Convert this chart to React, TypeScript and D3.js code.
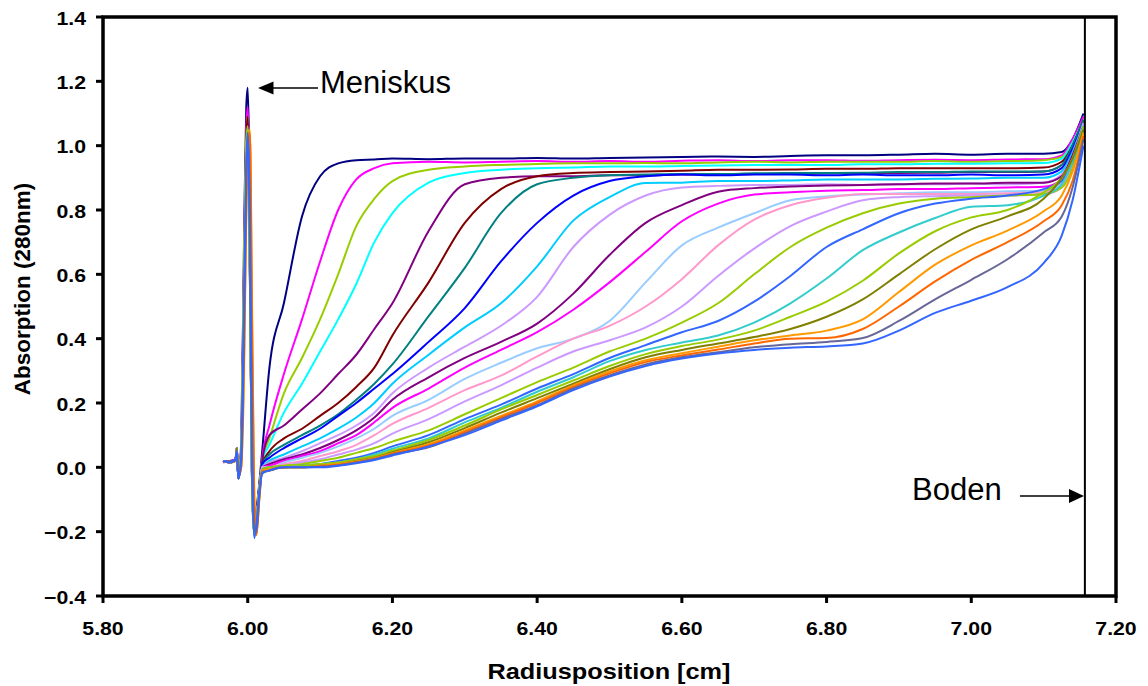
import React from "react";
import * as d3 from "d3";

// ---------- data ----------
const X_TICKS = [5.8, 6.0, 6.2, 6.4, 6.6, 6.8, 7.0, 7.2];
const Y_TICKS = [-0.4, -0.2, 0.0, 0.2, 0.4, 0.6, 0.8, 1.0, 1.2, 1.4];
const BODEN_RADIUS = 7.157;

// radius positions of the meniscus region (cm)
const RADIUS_MENISKUS = [5.966, 5.975, 5.983, 5.985, 5.987, 5.991, 5.995, 5.998, 6.0, 6.003, 6.006, 6.009, 6.012, 6.016];
// radius positions of the cell profile (cm)
const RADIUS_PROFILE = [6.02, 6.03, 6.05, 6.075, 6.1, 6.125, 6.15, 6.175, 6.2, 6.25, 6.3, 6.35, 6.4, 6.45, 6.5, 6.55, 6.6, 6.65, 6.7, 6.75, 6.8, 6.85, 6.9, 6.95, 7.0, 7.05, 7.1, 7.125, 7.14, 7.155];

const SERIES_COLORS = [
  "#000080", "#FF00FF", "#99CC00", "#00FFFF", "#800080", "#800000", "#008080", "#0000FF",
  "#00CCFF", "#CC99FF", "#800080", "#FF00FF", "#99CCFF", "#FF99CC", "#CC99FF", "#99CC00",
  "#3366FF", "#33CCCC", "#99CC00", "#808000", "#FF9900", "#FF6600", "#666699", "#3366FF",
];

const MENISKUS_VALUES: number[][] = [
  [0.02, 0.02, 0.025, 0.05, -0.03, 0.08, 0.72, 1.12, 1.18, 0.85, 0.05, -0.16, -0.13, -0.05],
  [0.015, 0.02, 0.02, 0.06, -0.035, 0.06, 0.65, 1.05, 1.12, 0.75, 0.0, -0.18, -0.15, -0.06],
  [0.02, 0.015, 0.02, 0.05, -0.03, 0.05, 0.62, 1.02, 1.09, 0.7, -0.02, -0.2, -0.16, -0.06],
  [0.02, 0.02, 0.02, 0.06, -0.035, 0.05, 0.6, 1.0, 1.08, 0.68, -0.03, -0.2, -0.16, -0.06],
  [0.02, 0.015, 0.02, 0.05, -0.03, 0.05, 0.58, 0.98, 1.06, 0.65, -0.04, -0.2, -0.16, -0.06],
  [0.02, 0.02, 0.02, 0.06, -0.035, 0.05, 0.6, 1.02, 1.09, 0.66, -0.04, -0.2, -0.16, -0.06],
  [0.02, 0.015, 0.02, 0.05, -0.03, 0.05, 0.58, 0.98, 1.05, 0.62, -0.05, -0.2, -0.17, -0.07],
  [0.02, 0.02, 0.02, 0.06, -0.035, 0.05, 0.6, 0.98, 1.05, 0.6, -0.05, -0.2, -0.17, -0.07],
  [0.02, 0.015, 0.02, 0.05, -0.03, 0.04, 0.57, 0.97, 1.05, 0.62, -0.05, -0.21, -0.17, -0.07],
  [0.02, 0.02, 0.02, 0.06, -0.035, 0.05, 0.6, 0.98, 1.05, 0.6, -0.05, -0.2, -0.17, -0.07],
  [0.02, 0.015, 0.02, 0.05, -0.03, 0.04, 0.56, 0.96, 1.05, 0.64, -0.04, -0.2, -0.17, -0.07],
  [0.02, 0.02, 0.025, 0.06, -0.035, 0.05, 0.6, 0.98, 1.06, 0.62, -0.05, -0.2, -0.17, -0.07],
  [0.02, 0.015, 0.02, 0.05, -0.03, 0.04, 0.55, 0.96, 1.05, 0.65, -0.04, -0.21, -0.17, -0.07],
  [0.02, 0.02, 0.02, 0.06, -0.035, 0.05, 0.58, 0.97, 1.05, 0.63, -0.05, -0.2, -0.17, -0.07],
  [0.02, 0.015, 0.02, 0.05, -0.03, 0.04, 0.56, 0.96, 1.05, 0.64, -0.05, -0.21, -0.17, -0.07],
  [0.02, 0.02, 0.02, 0.06, -0.035, 0.05, 0.6, 1.0, 1.06, 0.6, -0.06, -0.21, -0.17, -0.07],
  [0.02, 0.015, 0.02, 0.05, -0.03, 0.04, 0.55, 0.95, 1.05, 0.66, -0.03, -0.21, -0.18, -0.08],
  [0.02, 0.02, 0.02, 0.06, -0.035, 0.04, 0.55, 0.95, 1.05, 0.64, -0.05, -0.21, -0.17, -0.07],
  [0.02, 0.015, 0.02, 0.05, -0.03, 0.05, 0.6, 1.0, 1.05, 0.6, -0.06, -0.21, -0.17, -0.07],
  [0.02, 0.02, 0.02, 0.06, -0.035, 0.03, 0.5, 0.92, 1.04, 0.7, 0.0, -0.2, -0.18, -0.08],
  [0.02, 0.02, 0.02, 0.05, -0.03, 0.0, 0.3, 0.78, 0.96, 1.05, 0.5, -0.08, -0.21, -0.1],
  [0.02, 0.015, 0.02, 0.05, -0.03, 0.0, 0.35, 0.8, 0.98, 1.04, 0.45, -0.1, -0.21, -0.1],
  [0.02, 0.02, 0.02, 0.05, -0.035, 0.02, 0.45, 0.9, 1.03, 0.8, 0.1, -0.18, -0.2, -0.09],
  [0.02, 0.015, 0.025, 0.05, -0.035, 0.03, 0.5, 0.92, 1.04, 0.72, 0.02, -0.22, -0.18, -0.08],
];

const PROFILE_NAVY = [0.05, 0.31, 0.51, 0.78, 0.905, 0.945, 0.955, 0.957, 0.96, 0.958, 0.96, 0.96, 0.962, 0.96, 0.962, 0.963, 0.965, 0.966, 0.965, 0.968, 0.97, 0.97, 0.972, 0.975, 0.972, 0.975, 0.975, 0.98, 1.02, 1.1];
const PROFILE_MAGENTA = [0.03, 0.13, 0.29, 0.46, 0.64, 0.8, 0.895, 0.93, 0.945, 0.95, 0.948, 0.95, 0.952, 0.95, 0.952, 0.95, 0.953, 0.955, 0.952, 0.955, 0.955, 0.953, 0.955, 0.956, 0.955, 0.957, 0.958, 0.97, 1.02, 1.09];
const PROFILE_YELLOWGREEN = [0.02, 0.09, 0.23, 0.34, 0.46, 0.6, 0.75, 0.835, 0.89, 0.925, 0.935, 0.94, 0.943, 0.945, 0.945, 0.946, 0.945, 0.948, 0.95, 0.948, 0.95, 0.95, 0.95, 0.952, 0.95, 0.952, 0.955, 0.965, 1.01, 1.08];
const PROFILE_CYAN = [0.02, 0.07, 0.17, 0.26, 0.36, 0.46, 0.57, 0.7, 0.79, 0.885, 0.915, 0.925, 0.93, 0.932, 0.935, 0.935, 0.937, 0.938, 0.94, 0.94, 0.94, 0.942, 0.942, 0.944, 0.944, 0.945, 0.946, 0.96, 1.01, 1.08];
const PROFILE_PURPLE = [0.02, 0.1, 0.13, 0.18, 0.23, 0.29, 0.35, 0.43, 0.51, 0.735, 0.88, 0.9, 0.905, 0.905, 0.908, 0.908, 0.91, 0.91, 0.912, 0.912, 0.914, 0.915, 0.915, 0.916, 0.918, 0.918, 0.92, 0.94, 1.0, 1.08];
const PROFILE_DARKRED = [0.01, 0.05, 0.09, 0.12, 0.16, 0.2, 0.25, 0.31, 0.41, 0.575, 0.76, 0.865, 0.905, 0.915, 0.918, 0.92, 0.922, 0.925, 0.925, 0.926, 0.928, 0.928, 0.93, 0.93, 0.93, 0.93, 0.932, 0.95, 1.0, 1.08];
const PROFILE_TEAL = [0.01, 0.04, 0.07, 0.1, 0.13, 0.165, 0.21, 0.26, 0.32, 0.47, 0.62, 0.79, 0.88, 0.9, 0.908, 0.91, 0.912, 0.912, 0.914, 0.915, 0.915, 0.916, 0.918, 0.918, 0.92, 0.92, 0.92, 0.94, 1.0, 1.08];
const PROFILE_BLUE = [0.01, 0.03, 0.06, 0.09, 0.12, 0.16, 0.2, 0.245, 0.29, 0.39, 0.495, 0.64, 0.76, 0.845, 0.89, 0.905, 0.91, 0.908, 0.91, 0.91, 0.908, 0.91, 0.908, 0.908, 0.91, 0.908, 0.91, 0.93, 0.99, 1.07];
const PROFILE_SKYBLUE = [0.0, 0.02, 0.04, 0.065, 0.09, 0.12, 0.155, 0.2, 0.26, 0.35, 0.435, 0.51, 0.625, 0.767, 0.84, 0.884, 0.885, 0.89, 0.89, 0.892, 0.895, 0.895, 0.895, 0.897, 0.898, 0.9, 0.9, 0.92, 0.98, 1.07];
const PROFILE_LAVENDER = [0.0, 0.015, 0.03, 0.05, 0.075, 0.1, 0.13, 0.17, 0.23, 0.31, 0.375, 0.44, 0.53, 0.685, 0.785, 0.845, 0.87, 0.875, 0.878, 0.878, 0.88, 0.878, 0.88, 0.88, 0.882, 0.88, 0.885, 0.91, 0.97, 1.07];
const PROFILE_PURPLE_2 = [0.0, 0.01, 0.025, 0.04, 0.06, 0.085, 0.115, 0.155, 0.21, 0.28, 0.34, 0.39, 0.447, 0.54, 0.66, 0.76, 0.815, 0.857, 0.868, 0.873, 0.876, 0.878, 0.88, 0.882, 0.882, 0.885, 0.885, 0.905, 0.97, 1.06];
const PROFILE_MAGENTA_2 = [0.0, 0.005, 0.02, 0.035, 0.05, 0.075, 0.1, 0.14, 0.185, 0.245, 0.31, 0.365, 0.42, 0.49, 0.575, 0.67, 0.765, 0.82, 0.848, 0.855, 0.86, 0.862, 0.865, 0.865, 0.868, 0.87, 0.872, 0.895, 0.96, 1.06];
const PROFILE_LIGHTBLUE = [0.0, 0.0, 0.015, 0.03, 0.045, 0.065, 0.09, 0.12, 0.16, 0.21, 0.275, 0.325, 0.37, 0.4, 0.455, 0.575, 0.69, 0.745, 0.79, 0.83, 0.842, 0.848, 0.852, 0.855, 0.855, 0.858, 0.86, 0.885, 0.95, 1.06];
const PROFILE_PINK = [0.0, 0.0, 0.01, 0.02, 0.035, 0.05, 0.07, 0.1, 0.135, 0.185, 0.24, 0.285, 0.345, 0.4, 0.44, 0.5, 0.585, 0.69, 0.77, 0.815, 0.838, 0.85, 0.85, 0.85, 0.85, 0.852, 0.855, 0.875, 0.94, 1.05];
const PROFILE_LAVENDER_2 = [0.0, 0.0, 0.005, 0.015, 0.025, 0.04, 0.055, 0.075, 0.105, 0.15, 0.205, 0.255, 0.31, 0.36, 0.395, 0.435, 0.5, 0.595, 0.68, 0.75, 0.795, 0.83, 0.84, 0.843, 0.845, 0.845, 0.848, 0.87, 0.93, 1.05];
const PROFILE_YELLOWGREEN_2 = [-0.005, 0.0, 0.005, 0.01, 0.02, 0.03, 0.045, 0.06, 0.08, 0.115, 0.165, 0.215, 0.265, 0.31, 0.36, 0.4, 0.45, 0.51, 0.6, 0.685, 0.745, 0.79, 0.82, 0.835, 0.84, 0.845, 0.85, 0.87, 0.93, 1.05];
const PROFILE_ROYALBLUE = [-0.01, 0.0, 0.0, 0.005, 0.01, 0.02, 0.03, 0.045, 0.065, 0.1, 0.15, 0.195, 0.245, 0.29, 0.34, 0.38, 0.42, 0.455, 0.515, 0.595, 0.685, 0.74, 0.79, 0.82, 0.835, 0.845, 0.865, 0.89, 0.95, 1.06];
const PROFILE_TURQUOISE = [-0.01, 0.0, 0.0, 0.005, 0.01, 0.015, 0.025, 0.04, 0.058, 0.09, 0.14, 0.185, 0.235, 0.28, 0.33, 0.365, 0.388, 0.41, 0.45, 0.51, 0.587, 0.675, 0.73, 0.775, 0.81, 0.815, 0.845, 0.88, 0.95, 1.05];
const PROFILE_YELLOWGREEN_3 = [-0.01, 0.0, 0.0, 0.005, 0.01, 0.015, 0.025, 0.035, 0.052, 0.085, 0.13, 0.18, 0.225, 0.27, 0.315, 0.352, 0.377, 0.397, 0.425, 0.468, 0.515, 0.58, 0.665, 0.734, 0.777, 0.8, 0.855, 0.9, 0.96, 1.06];
const PROFILE_OLIVE = [-0.01, -0.005, 0.0, 0.0, 0.005, 0.01, 0.02, 0.03, 0.047, 0.078, 0.122, 0.17, 0.215, 0.26, 0.305, 0.342, 0.365, 0.385, 0.405, 0.43, 0.468, 0.522, 0.6, 0.678, 0.74, 0.78, 0.835, 0.9, 0.96, 1.05];
const PROFILE_ORANGE = [-0.01, -0.005, 0.0, 0.0, 0.005, 0.01, 0.018, 0.028, 0.044, 0.072, 0.115, 0.16, 0.205, 0.255, 0.298, 0.333, 0.355, 0.375, 0.395, 0.41, 0.425, 0.46, 0.545, 0.63, 0.69, 0.736, 0.796, 0.845, 0.92, 1.04];
const PROFILE_ORANGERED = [-0.015, -0.01, 0.0, 0.0, 0.003, 0.008, 0.016, 0.026, 0.042, 0.068, 0.11, 0.155, 0.2, 0.25, 0.292, 0.327, 0.348, 0.366, 0.385, 0.4, 0.402, 0.43, 0.5, 0.578, 0.645, 0.7, 0.765, 0.815, 0.89, 1.03];
const PROFILE_GRAYBLUE = [-0.015, -0.01, 0.0, 0.0, 0.002, 0.006, 0.015, 0.025, 0.04, 0.062, 0.105, 0.15, 0.193, 0.245, 0.286, 0.32, 0.342, 0.358, 0.373, 0.383, 0.39, 0.402, 0.455, 0.522, 0.583, 0.647, 0.73, 0.78, 0.87, 1.02];
const PROFILE_ROYALBLUE_2 = [-0.02, -0.01, 0.0, 0.0, 0.0, 0.005, 0.013, 0.023, 0.037, 0.065, 0.1, 0.145, 0.19, 0.24, 0.282, 0.315, 0.338, 0.354, 0.365, 0.372, 0.376, 0.385, 0.425, 0.48, 0.518, 0.56, 0.635, 0.72, 0.83, 1.0];

const PROFILE_VALUES = [
  PROFILE_NAVY, PROFILE_MAGENTA, PROFILE_YELLOWGREEN, PROFILE_CYAN, PROFILE_PURPLE, PROFILE_DARKRED,
  PROFILE_TEAL, PROFILE_BLUE, PROFILE_SKYBLUE, PROFILE_LAVENDER, PROFILE_PURPLE_2, PROFILE_MAGENTA_2,
  PROFILE_LIGHTBLUE, PROFILE_PINK, PROFILE_LAVENDER_2, PROFILE_YELLOWGREEN_2, PROFILE_ROYALBLUE,
  PROFILE_TURQUOISE, PROFILE_YELLOWGREEN_3, PROFILE_OLIVE, PROFILE_ORANGE, PROFILE_ORANGERED,
  PROFILE_GRAYBLUE, PROFILE_ROYALBLUE_2,
];

// ---------- layout ----------
const W = 1148;
const H = 686;
const M = { left: 103, right: 1116, top: 17, bottom: 596 };
const FONT = "'Liberation Sans', Arial, Helvetica, sans-serif";

export default function App() {
  const x = d3.scaleLinear().domain([5.8, 7.2]).range([M.left, M.right]);
  const y = d3.scaleLinear().domain([-0.4, 1.4]).range([M.bottom, M.top]);

  const line = d3
    .line<[number, number]>()
    .x((d) => x(d[0]))
    .y((d) => y(d[1]))
    .curve(d3.curveMonotoneX);

  const series = PROFILE_VALUES.map((prof, i) => {
    const pts: [number, number][] = [];
    RADIUS_MENISKUS.forEach((r, j) => pts.push([r, MENISKUS_VALUES[i][j]]));
    RADIUS_PROFILE.forEach((r, j) => pts.push([r, prof[j]]));
    return { color: SERIES_COLORS[i], d: line(pts) || "" };
  });

  const yFmt = d3.format(".1f");
  const xFmt = d3.format(".2f");
  const bx = x(BODEN_RADIUS);

  return (
    <svg width={W} height={H} style={{ position: "absolute", left: 0, top: 0, background: "#fff" }}>
      <rect x={0} y={0} width={W} height={H} fill="#fff" />
      {/* curves */}
      <g fill="none" strokeWidth={2} strokeLinejoin="round">
        {series.map((s, i) => (
          <path key={i} d={s.d} stroke={s.color} />
        ))}
      </g>

      {/* Boden line */}
      <line x1={bx} x2={bx} y1={M.top} y2={M.bottom} stroke="#000" strokeWidth={2} />

      {/* frame */}
      <rect x={M.left} y={M.top} width={M.right - M.left} height={M.bottom - M.top} fill="none" stroke="#000" strokeWidth={3.5} />

      {/* y ticks */}
      {Y_TICKS.map((t) => (
        <g key={"y" + t}>
          <line x1={M.left - 7} x2={M.left} y1={y(t)} y2={y(t)} stroke="#000" strokeWidth={3} />
          <text
            transform={`translate(86,${y(t) + 7.5}) scale(1.15,1)`}
            textAnchor="end"
            fontFamily={FONT}
            fontWeight="bold"
            fontSize={18.5}
            fill="#000"
          >
            {yFmt(t)}
          </text>
        </g>
      ))}

      {/* x ticks */}
      {X_TICKS.map((t) => (
        <g key={"x" + t}>
          <line x1={x(t)} x2={x(t)} y1={M.bottom} y2={M.bottom + 7} stroke="#000" strokeWidth={3} />
          <text
            transform={`translate(${x(t)},635) scale(1.15,1)`}
            textAnchor="middle"
            fontFamily={FONT}
            fontWeight="bold"
            fontSize={18.5}
            fill="#000"
          >
            {xFmt(t)}
          </text>
        </g>
      ))}

      {/* axis titles */}
      <text
        transform={`translate(609,679) scale(1.15,1)`}
        textAnchor="middle"
        fontFamily={FONT}
        fontWeight="bold"
        fontSize={22}
        fill="#000"
      >
        Radiusposition [cm]
      </text>
      <text
        transform={`translate(29.5,289) rotate(-90)`}
        textAnchor="middle"
        fontFamily={FONT}
        fontWeight="bold"
        fontSize={22.5}
        fill="#000"
      >
        Absorption (280nm)
      </text>

      {/* annotations */}
      <text x={320} y={93} fontFamily={FONT} fontSize={31} fill="#000">
        Meniskus
      </text>
      <line x1={318} x2={272} y1={88} y2={88} stroke="#000" strokeWidth={1.6} />
      <path d="M258,88 L273.5,81.5 L273.5,94.5 Z" fill="#000" />

      <text x={912} y={500} fontFamily={FONT} fontSize={31} fill="#000">
        Boden
      </text>
      <line x1={1020} x2={1070} y1={496} y2={496} stroke="#000" strokeWidth={1.6} />
      <path d="M1084,496 L1069,489 L1069,503 Z" fill="#000" />
    </svg>
  );
}
